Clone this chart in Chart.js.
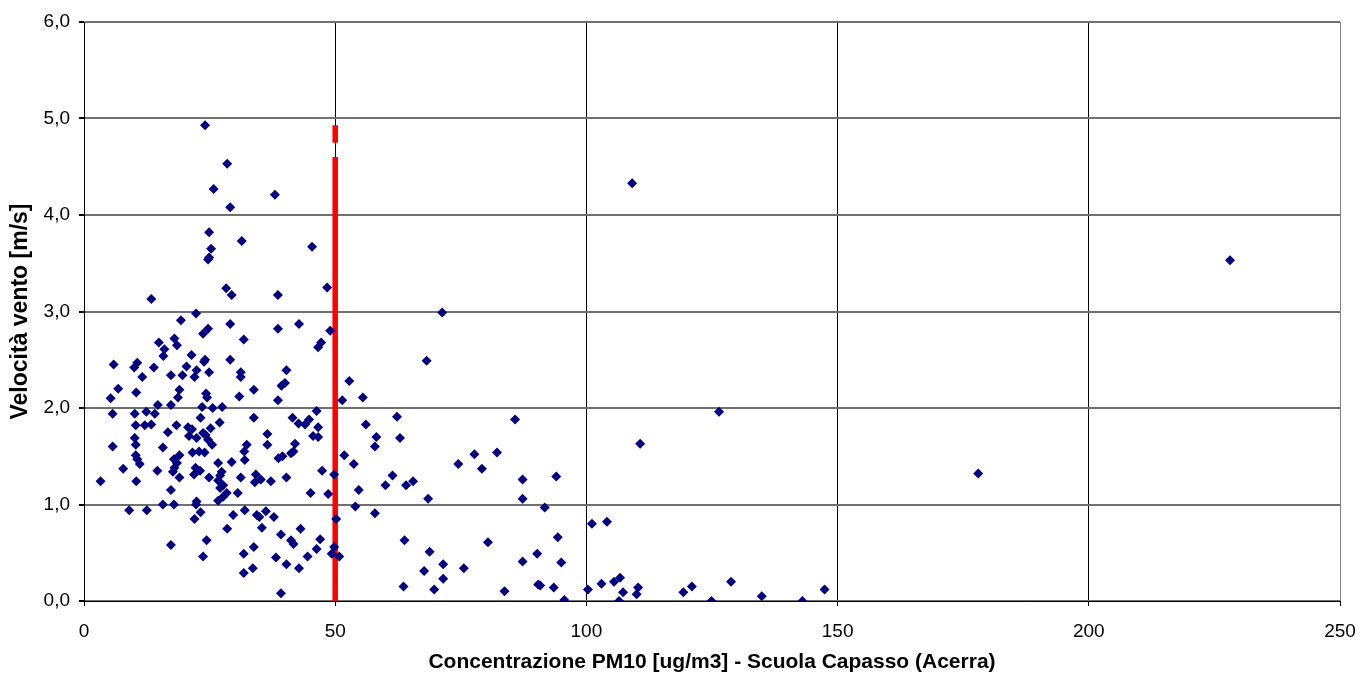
<!DOCTYPE html>
<html>
<head>
<meta charset="utf-8">
<script src="https://cdn.jsdelivr.net/npm/chart.js@4.4.1/dist/chart.umd.min.js"></script>
<style>
  html, body { margin: 0; padding: 0; background: #fff; }
  canvas { display: block; }
</style>
</head>
<body>
<canvas id="chart" width="1358" height="675"></canvas>
<script>
// PM10 concentration (ug/m3) vs wind speed (m/s), one entry per day
const pm10 = [
  24.1, 28.5, 25.8, 38.0, 29.1, 24.9, 31.4, 45.4, 25.3, 24.7, 24.9,
  13.4, 22.3, 19.3, 23.7, 24.7, 14.9, 18.0, 18.5, 16.0, 15.8, 5.9, 10.6, 10.0, 13.9, 11.6,
  21.4, 20.4, 22.4, 23.9, 24.1, 24.9, 17.3, 19.6, 22.0, 6.8, 5.3, 10.4, 19.0, 18.7, 24.3,
  24.5, 5.7, 10.1, 12.4, 14.1, 14.7, 17.3, 23.5, 25.6, 27.5, 23.2, 27.0, 10.3, 12.1, 13.4,
  18.4, 16.7, 20.7, 21.5, 25.2, 23.7, 24.2, 20.9, 22.4, 10.1, 10.3, 5.7, 15.7, 24.7, 25.5,
  28.3, 29.4, 38.6, 48.4, 29.1, 38.6, 42.8, 49.0, 31.8, 47.2, 46.6, 29.1, 31.2, 31.2, 40.3,
  40.0, 39.3, 33.8, 30.9, 38.6, 33.8, 41.5, 42.7, 44.0, 44.8, 46.3, 46.6, 36.5, 45.6, 46.6,
  10.3, 10.6, 11.1, 7.8, 3.3, 10.4, 14.6, 17.9, 19.0, 18.5, 17.7, 18.0, 19.0, 21.6, 22.9,
  24.0, 22.2, 23.1, 21.9, 24.9, 17.3, 15.7, 17.9, 22.4, 22.3, 23.2, 22.0, 9.0, 12.5, 24.4,
  17.3, 23.7,
  32.4, 31.9, 36.5, 42.0, 41.7, 41.2, 38.7, 39.5, 26.7, 29.4, 32.0, 27.4, 27.1, 26.7, 27.7,
  27.1, 28.4, 27.7, 26.7, 31.2, 34.2, 34.0, 35.2, 37.2, 40.3, 30.6, 47.4, 49.8, 51.8, 45.1,
  48.6, 29.7, 32.0, 34.4, 34.9, 36.2, 37.8, 28.5, 35.4, 39.2, 41.2, 41.7, 43.1, 47.0, 46.3,
  44.5, 50.2, 49.8, 49.3, 50.8, 33.8, 31.8, 38.2, 40.3, 42.8, 33.6, 31.8, 39.2,
  68.2, 52.8, 51.4, 55.5, 62.3, 85.8, 56.1, 58.2, 57.9, 62.9, 110.7, 53.7, 74.5, 77.7, 79.2,
  82.2, 61.4, 60.0, 65.5, 64.1, 54.7, 68.5, 87.3, 87.3, 94.0, 54.0, 57.9, 91.7, 101.1, 104.1,
  63.8, 80.4, 94.3, 68.8, 90.2, 71.5, 67.7, 75.6, 87.3, 95.0, 63.6, 69.7, 71.5, 83.7, 90.4,
  90.8, 93.5, 95.6, 100.3, 103.0, 105.5, 106.7, 107.3, 106.5, 110.3, 110.0,
  71.3, 109.1, 126.4, 128.8, 121.0, 119.3, 124.9, 134.9, 143.0, 147.4, 228.1, 178.0
];
const vento = [
  4.93, 4.53, 4.27, 4.21, 4.08, 3.82, 3.73, 3.67, 3.65, 3.54, 3.56,
  3.13, 2.98, 2.91, 2.77, 2.82, 2.68, 2.72, 2.65, 2.61, 2.54, 2.45, 2.47, 2.42, 2.42, 2.32,
  2.55, 2.43, 2.39, 2.48, 2.50, 2.37, 2.34, 2.34, 2.32, 2.20, 2.10, 2.16, 2.19, 2.11, 2.15,
  2.11, 1.94, 1.94, 1.96, 1.94, 2.03, 2.03, 2.01, 2.00, 2.01, 1.90, 1.85, 1.82, 1.82, 1.83,
  1.82, 1.75, 1.80, 1.78, 1.79, 1.74, 1.72, 1.71, 1.69, 1.69, 1.62, 1.60, 1.59, 1.67, 1.62,
  3.24, 3.17, 3.17, 3.25, 2.87, 2.82, 2.87, 2.80, 2.71, 2.68, 2.63, 2.50, 2.37, 2.32, 2.39,
  2.26, 2.23, 2.19, 2.12, 2.08, 1.90, 1.90, 1.84, 1.83, 1.88, 1.97, 1.80, 1.73, 1.71, 1.70,
  1.51, 1.47, 1.42, 1.37, 1.24, 1.24, 1.35, 1.47, 1.51, 1.43, 1.34, 1.38, 1.28, 1.54, 1.55,
  1.54, 1.38, 1.35, 1.31, 1.28, 1.15, 1.00, 1.00, 1.03, 1.00, 0.92, 0.85, 0.94, 0.94, 0.63,
  0.58, 0.46,
  1.62, 1.55, 1.62, 1.63, 1.55, 1.53, 1.48, 1.50, 1.43, 1.44, 1.46, 1.34, 1.30, 1.25, 1.20,
  1.17, 1.12, 1.08, 1.04, 1.28, 1.31, 1.23, 1.26, 1.24, 1.28, 1.12, 1.35, 1.31, 1.51, 1.12,
  1.11, 0.89, 0.94, 0.89, 0.87, 0.93, 0.87, 0.75, 0.76, 0.69, 0.63, 0.59, 0.75, 0.64, 0.54,
  0.46, 0.85, 0.56, 0.49, 0.46, 0.56, 0.49, 0.45, 0.38, 0.34, 0.34, 0.29, 0.08,
  2.49, 2.28, 2.08, 2.11, 1.91, 1.88, 1.83, 1.70, 1.60, 1.69, 1.63, 1.42, 1.42, 1.52, 1.37,
  1.54, 1.30, 1.20, 1.24, 1.20, 1.15, 1.06, 1.26, 1.06, 1.29, 0.98, 0.91, 0.97, 0.80, 0.82,
  0.63, 0.61, 0.66, 0.51, 0.49, 0.38, 0.31, 0.34, 0.41, 0.40, 0.15, 0.12, 0.23, 0.10, 0.17,
  0.16, 0.14, 0.01, 0.12, 0.18, 0.20, 0.24, 0.09, 0.00, 0.14, 0.07,
  2.99, 4.33, 1.96, 0.20, 0.15, 0.09, 0.00, 0.05, 0.00, 0.12, 3.53, 1.32
];

// limit line at 50 ug/m3 (red bar), with a small gap near the top
const limiteX = [50, 50, 50, 50, 50];
const limiteY = [0, 4.6, null, 4.75, 4.93];

const xTicks = [0, 50, 100, 150, 200, 250];
const yTicks = [0, 1, 2, 3, 4, 5, 6];

const FONT = "'Liberation Sans', Arial, sans-serif";

const punti = pm10.map((x, i) => ({ x: x, y: vento[i] }));
const limite = limiteX.map((x, i) => ({ x: x, y: limiteY[i] }));

new Chart(document.getElementById('chart'), {
  type: 'scatter',
  data: {
    datasets: [
      {
        label: 'PM10',
        data: punti,
        pointStyle: 'rectRot',
        pointRadius: 5,
        pointHoverRadius: 5,
        backgroundColor: '#000080',
        borderWidth: 0,
        order: 0
      },
      {
        label: 'Limite',
        type: 'line',
        data: limite,
        borderColor: '#ff0000',
        borderWidth: 5.5,
        borderCapStyle: 'butt',
        pointRadius: 0,
        spanGaps: false,
        order: 1
      }
    ]
  },
  options: {
    responsive: false,
    animation: false,
    layout: { padding: { left: 0, top: 22, right: 18, bottom: 0 } },
    plugins: {
      legend: { display: false },
      tooltip: { enabled: false }
    },
    scales: {
      x: {
        type: 'linear',
        min: xTicks[0],
        max: xTicks[xTicks.length - 1],
        afterBuildTicks: (s) => { s.ticks = xTicks.map(v => ({ value: v })); },
        afterFit: (s) => {
          s.height = 74;
          s.paddingLeft = 0;
          s.paddingRight = 0;
        },
        border: { color: '#000', width: 1 },
        grid: {
          color: (c) => (c.tick && c.tick.value === 250 ? '#808080' : '#000'),
          lineWidth: 1,
          tickLength: 5,
          tickColor: '#000'
        },
        ticks: {
          padding: 14,
          color: '#000',
          font: { family: FONT, size: 19 }
        },
        title: {
          display: true,
          text: 'Concentrazione PM10 [ug/m3] - Scuola Capasso (Acerra)',
          color: '#000',
          font: { family: FONT, size: 21, weight: 'bold' },
          padding: { top: 0, bottom: 0 }
        }
      },
      y: {
        type: 'linear',
        min: yTicks[0],
        max: yTicks[yTicks.length - 1],
        afterBuildTicks: (s) => { s.ticks = yTicks.map(v => ({ value: v })); },
        afterFit: (s) => {
          s.width = 84;
          s.paddingTop = 0;
          s.paddingBottom = 0;
        },
        border: { color: '#000', width: 1 },
        grid: {
          color: '#707070',
          lineWidth: 2,
          tickLength: 5,
          tickColor: '#000'
        },
        ticks: {
          padding: 9,
          color: '#000',
          font: { family: FONT, size: 19 },
          callback: (v) => v.toFixed(1).replace('.', ',')
        },
        title: {
          display: true,
          text: 'Velocità vento [m/s]',
          color: '#000',
          font: { family: FONT, size: 23, weight: 'bold' },
          padding: { top: 7, bottom: 0 }
        }
      }
    }
  }
});
</script>
</body>
</html>
